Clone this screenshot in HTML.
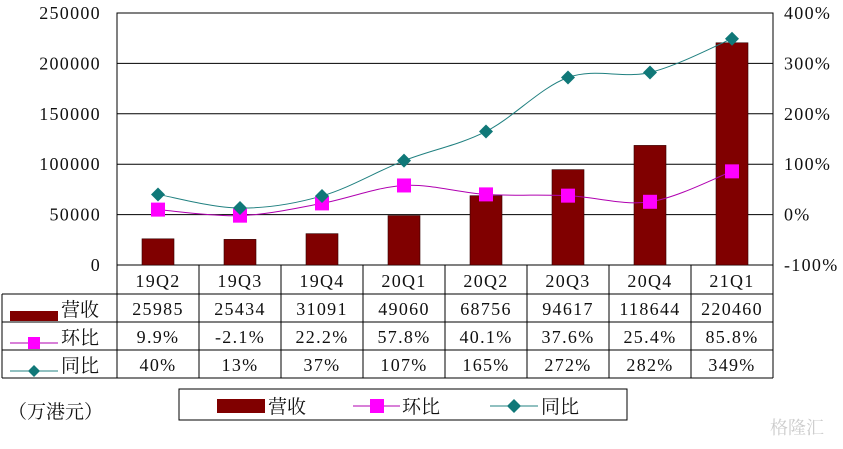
<!DOCTYPE html>
<html><head><meta charset="utf-8"><style>
body{margin:0;background:#fff;}
svg text{font-family:"Liberation Serif","Noto Serif CJK SC",serif;font-size:18px;letter-spacing:1.3px;fill:#111;}
svg text.cjk{font-size:19px;letter-spacing:0;}
</style></head><body>
<svg id="c" width="843" height="444" xmlns="http://www.w3.org/2000/svg"></svg>
<script>
const categories=["19Q2","19Q3","19Q4","20Q1","20Q2","20Q3","20Q4","21Q1"];
const revenue=[25985,25434,31091,49060,68756,94617,118644,220460];
const qoq=[9.9,-2.1,22.2,57.8,40.1,37.6,25.4,85.8];
const yoy=[40,13,37,107,165,272,282,349];
const revLabels=["25985","25434","31091","49060","68756","94617","118644","220460"];
const qoqLabels=["9.9%","-2.1%","22.2%","57.8%","40.1%","37.6%","25.4%","85.8%"];
const yoyLabels=["40%","13%","37%","107%","165%","272%","282%","349%"];
const leftTicks=[0,50000,100000,150000,200000,250000];
const rightTicks=[-100,0,100,200,300,400];

const NS="http://www.w3.org/2000/svg",svg=document.getElementById('c');
const L=117,R=773,T=13,B=265,cw=(R-L)/categories.length;
const yL=v=>B-(v/250000)*(B-T);
const yR=v=>B-((v+100)/500)*(B-T);
const xC=i=>L+cw*(i+0.5);
function el(t,a,p){const e=document.createElementNS(NS,t);for(const k in a)e.setAttribute(k,a[k]);(p||svg).appendChild(e);return e;}
function tx(s,x,y,anchor,cls){const e=el('text',{x:x,y:y,'text-anchor':anchor||'middle'});if(cls)e.setAttribute('class',cls);e.textContent=s;return e;}

leftTicks.forEach(v=>{const g=el('line',{x1:L,x2:R,y1:yL(v),y2:yL(v),stroke:'#000','stroke-width':1});

const t=tx(String(v),101,yL(v)+6,'end');});
rightTicks.forEach(v=>{const t=tx(v+'%',784,yR(v)+6,'start');});
el('rect',{x:L,y:T,width:R-L,height:B-T,fill:'none',stroke:'#000','stroke-width':1});

revenue.forEach((v,i)=>{const b=el('rect',{x:xC(i)-16,y:yL(v),width:32,height:B-yL(v),fill:'#800000',stroke:'#300','stroke-width':0.6});
});

function smooth(pts){let d='M'+pts[0][0]+','+pts[0][1];
for(let i=0;i<pts.length-1;i++){const p0=pts[i-1]||pts[i],p1=pts[i],p2=pts[i+1],p3=pts[i+2]||p2;
d+=' C'+(p1[0]+(p2[0]-p0[0])/6)+','+(p1[1]+(p2[1]-p0[1])/6)+' '+(p2[0]-(p3[0]-p1[0])/6)+','+(p2[1]-(p3[1]-p1[1])/6)+' '+p2[0]+','+p2[1];}return d;}
const qp=qoq.map((v,i)=>[xC(i),yR(v)]),yp=yoy.map((v,i)=>[xC(i),yR(v)]);
const ql=el('path',{d:smooth(qp),fill:'none',stroke:'#b000b0','stroke-width':1});

const yl=el('path',{d:smooth(yp),fill:'none',stroke:'#208080','stroke-width':1});

qp.forEach((p,i)=>{const m=el('rect',{x:p[0]-7,y:p[1]-7,width:14,height:14,fill:'#ff00ff'});
});
yp.forEach((p,i)=>{const m=el('path',{d:`M${p[0]},${p[1]-7} L${p[0]+7},${p[1]} L${p[0]},${p[1]+7} L${p[0]-7},${p[1]} Z`,fill:'#107878'});
});

const rows=[265,294,322,350,378];
el('line',{x1:L,x2:L,y1:B,y2:rows[1],stroke:'#000'});
for(let r=1;r<rows.length;r++)el('line',{x1:2,x2:R,y1:rows[r],y2:rows[r],stroke:'#000'});
el('line',{x1:2,x2:2,y1:rows[1],y2:rows[4],stroke:'#000'});
for(let i=0;i<=categories.length;i++)el('line',{x1:L+cw*i,x2:L+cw*i,y1:B,y2:rows[4],stroke:'#000'});
categories.forEach((c,i)=>{
const a=tx(c,xC(i),287);
const b=tx(revLabels[i],xC(i),315);
const d=tx(qoqLabels[i],xC(i),343);
const e=tx(yoyLabels[i],xC(i),371);});
el('rect',{x:10,y:311,width:48,height:10,fill:'#800000'});
tx('营收',61,316,'start','cjk');
el('line',{x1:10,x2:58,y1:343,y2:343,stroke:'#b000b0'});el('rect',{x:28,y:337,width:12,height:12,fill:'#ff00ff'});
tx('环比',61,344,'start','cjk');
el('line',{x1:10,x2:58,y1:371,y2:371,stroke:'#208080'});el('path',{d:'M34,365 L40,371 L34,377 L28,371Z',fill:'#107878'});
tx('同比',61,372,'start','cjk');

const lg=el('g',{});
el('rect',{x:179,y:389,width:448,height:31,fill:'#fff',stroke:'#000'},lg);
el('rect',{x:217,y:399,width:48,height:14,fill:'#800000'},lg);tx('营收',268,413,'start','cjk');
el('line',{x1:353,x2:400,y1:406,y2:406,stroke:'#b000b0'},lg);el('rect',{x:370,y:399,width:14,height:14,fill:'#ff00ff'},lg);tx('环比',402,413,'start','cjk');
el('line',{x1:490,x2:538,y1:406,y2:406,stroke:'#208080'},lg);el('path',{d:'M514,399 L521,406 L514,413 L507,406Z',fill:'#107878'},lg);tx('同比',541,413,'start','cjk');
const u=tx('（万港元）',8,418,'start','cjk');
const w=tx('格隆汇',770,434,'start','cjk');w.setAttribute('style','fill:#ccc;font-size:18px');
</script>
</body></html>
